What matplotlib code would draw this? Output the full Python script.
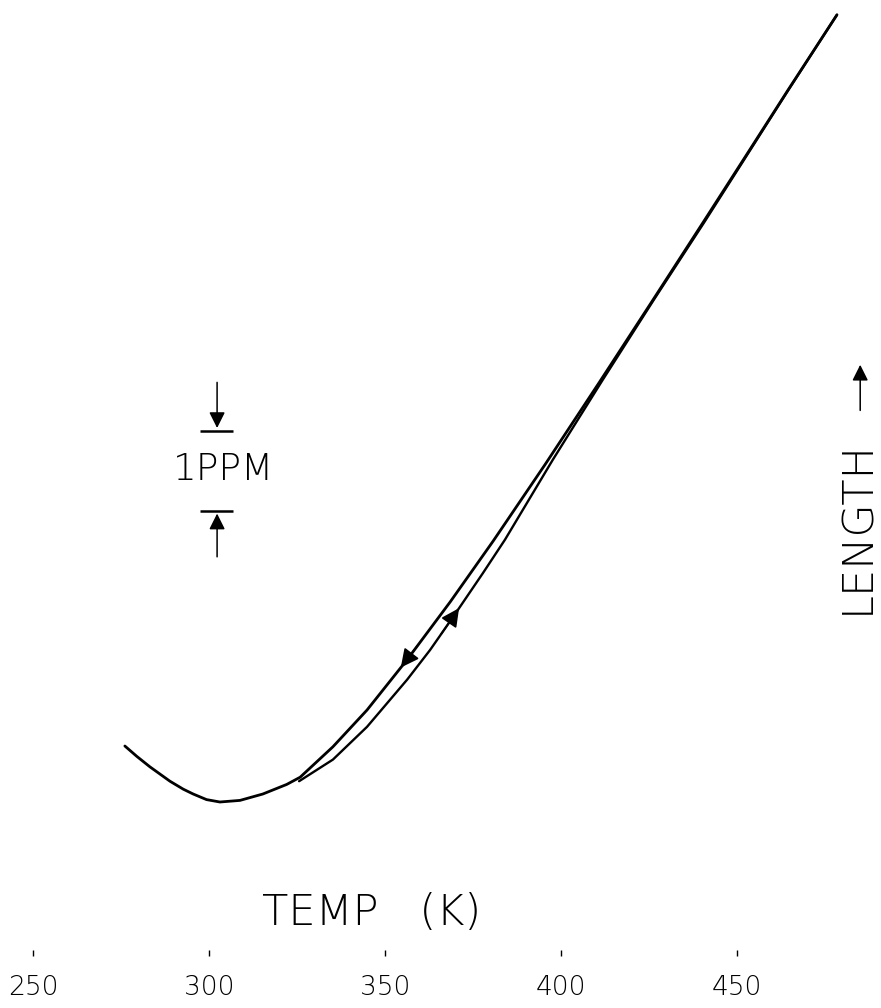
import numpy as np
import matplotlib.pyplot as plt

# cooling branch (upper/left) - temperature K, relative length ppm
cool_T = [478.4, 464.5, 451.4, 440.3, 425.6, 410.8, 395.5, 380.7, 368.5, 356.3,
          344.9, 335.2, 325.9, 322.1, 315.3, 308.8, 303.1, 299.3, 295.5, 292.7,
          288.9, 283.2, 279.5, 276.1]
cool_L = [9.84, 8.90, 8.00, 7.24, 6.24, 5.24, 4.22, 3.26, 2.50, 1.78,
          1.15, 0.69, 0.31, 0.22, 0.10, 0.02, 0.00, 0.03, 0.10, 0.16,
          0.26, 0.44, 0.57, 0.70]

# heating branch (lower/right)
heat_T = [325.6, 335.2, 344.9, 356.3, 362.8, 369.3, 377.8, 384.1, 397.7,
          411.9, 426.4, 440.6, 451.6, 464.6, 478.4]
heat_L = [0.26, 0.53, 0.94, 1.53, 1.90, 2.31, 2.86, 3.28, 4.28,
          5.28, 6.28, 7.24, 8.00, 8.90, 9.84]

xticks = [250, 300, 350, 400, 450]

# scale bar for 1 ppm
bar_T = 302.3
bar_lo, bar_hi = 3.64, 4.64

W, H = 881, 1008
fig = plt.figure(figsize=(W / 100, H / 100), dpi=100)
# axes placed so 250 K sits at x=33 px and bottom at y=950 px
x0, x1 = 250, 490
y0, y1 = -1.85, 9.9
ax = fig.add_axes([33 / W, (H - 950) / H, (x1 - x0) * 3.52 / W, 940 / H])
ax.set_xlim(x0, x1)
ax.set_ylim(y0, y1)

ax.plot(cool_T, cool_L, color='k', lw=2.0, solid_capstyle='round',
        solid_joinstyle='round')
ax.plot(heat_T, heat_L, color='k', lw=1.7, solid_capstyle='round',
        solid_joinstyle='round')

# direction arrows on the loop
ct = np.array(cool_T[::-1]); cl = np.array(cool_L[::-1])
ht = np.array(heat_T); hl = np.array(heat_L)
ax.annotate('', xy=(354.0, np.interp(354.0, ct, cl)),
            xytext=(360.0, np.interp(360.0, ct, cl)),
            arrowprops=dict(arrowstyle='-|>', color='k', lw=1.2, mutation_scale=28))
ax.annotate('', xy=(371.5, np.interp(371.5, ht, hl)),
            xytext=(365.5, np.interp(365.5, ht, hl)),
            arrowprops=dict(arrowstyle='-|>', color='k', lw=1.2, mutation_scale=28))

# 1 PPM scale marker
ax.hlines([bar_hi, bar_lo], 297.4, 306.8, color='k', lw=1.8)
ax.annotate('', xy=(bar_T, bar_hi), xytext=(bar_T, bar_hi + 0.64),
            arrowprops=dict(arrowstyle='-|>', color='k', lw=1.1, mutation_scale=24))
ax.annotate('', xy=(bar_T, bar_lo), xytext=(bar_T, bar_lo - 0.61),
            arrowprops=dict(arrowstyle='-|>', color='k', lw=1.1, mutation_scale=24))
ax.text(304.0, 4.15, '1PPM', ha='center', va='center', fontsize=27,
        family='DejaVu Sans', fontweight='light')

# labels
ax.text(346.3, -1.375, 'TEMP   (K)', ha='center', va='center', fontsize=31,
        family='DejaVu Sans', fontweight='light')
ax.text(484.1, 3.44, 'LENGTH', rotation=90, ha='center', va='center',
        fontsize=31, family='DejaVu Sans', fontweight='light')
ax.annotate('', xy=(485.0, 5.5), xytext=(485.0, 4.86),
            arrowprops=dict(arrowstyle='-|>', color='k', lw=1.1, mutation_scale=24))

for s in ax.spines.values():
    s.set_visible(False)
ax.set_yticks([])
ax.set_xticks(xticks)
ax.set_xticklabels([str(t) for t in xticks], fontsize=19, fontweight='light')
ax.tick_params(axis='x', direction='out', length=4, width=1, pad=14)

fig.savefig('out.png', dpi=100)
